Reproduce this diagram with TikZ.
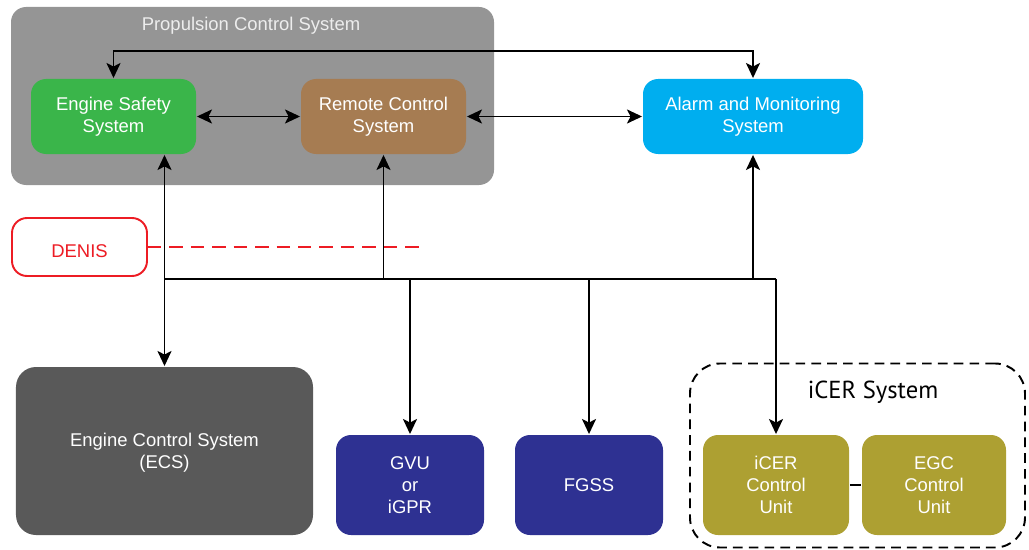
\documentclass[tikz,border=0pt]{standalone}
\usepackage{fontspec}
\setmainfont{Liberation Sans}
\newfontfamily\groupfont{PT Sans}
\usetikzlibrary{positioning, arrows.meta}

\definecolor{pcsgray}{HTML}{959595}
\definecolor{essgreen}{HTML}{3AB54A}
\definecolor{rcsbrown}{HTML}{A67C52}
\definecolor{amscyan}{HTML}{00AEEF}
\definecolor{ecsgray}{HTML}{595959}
\definecolor{unitnavy}{HTML}{2E3192}
\definecolor{icerolive}{HTML}{ADA032}
\definecolor{denisred}{HTML}{ED1C24}

\begin{document}
\begin{tikzpicture}[line width=1.1pt,
    arr/.style={-{Stealth[length=3mm,width=2.8mm,inset=0.7mm]}},
    biarr/.style={{Stealth[length=3mm,width=2.8mm,inset=0.7mm]}-{Stealth[length=3mm,width=2.8mm,inset=0.7mm]}},
    sys/.style={rectangle, rounded corners=0.3cm, align=center, text=white, inner sep=0pt,
        font=\fontsize{10.5pt}{12.5pt}\selectfont, draw=none}]
    \useasboundingbox (0,0) rectangle (20.58,-11.0);

    % propulsion control group
    \node[rectangle, rounded corners=0.3cm, fill=pcsgray, minimum width=9.66cm, minimum height=3.56cm] (pcs) at (5.05,-1.92) {};
    \node[text=white!93!black, font=\fontsize{10.5pt}{12.5pt}\selectfont] (pcstitle) at (5.02,-0.52) {Propulsion Control System};

    \node[sys, fill=essgreen, minimum width=3.3cm, minimum height=1.5cm] (ess) at (2.27,-2.33) {Engine Safety\\System};
    \node[sys, fill=rcsbrown, minimum width=3.3cm, minimum height=1.5cm] (rcs) at (7.67,-2.33) {Remote Control\\System};
    \node[sys, fill=amscyan, minimum width=4.4cm, minimum height=1.5cm] (ams) at (15.06,-2.33) {Alarm and Monitoring\\System};

    \node[sys, draw=denisred, fill=white, text=denisred, rounded corners=0.3cm, minimum width=2.7cm, minimum height=1.16cm] (denis) at (1.59,-4.94) {};
    \node[text=denisred, font=\fontsize{10.5pt}{12.5pt}\selectfont] (denistext) at (1.59,-5.02) {DENIS};
    \coordinate (denisend) at (8.44,-4.94);

    \node[sys, fill=ecsgray, rounded corners=0.4cm, minimum width=5.94cm, minimum height=3.36cm] (ecs) at (3.29,-9.02) {};
    \node[text=white, align=center, font=\fontsize{10.5pt}{12.5pt}\selectfont] (ecstext) at (3.29,-9.06) {Engine Control System\\(ECS)};
    \node[sys, fill=unitnavy, minimum width=2.96cm, minimum height=2cm] (gvu) at (8.2,-9.7) {GVU\\or\\iGPR};
    \node[sys, fill=unitnavy, minimum width=2.96cm, minimum height=2cm] (fgss) at (11.78,-9.7) {FGSS};

    % iCER system
    \node[rectangle, draw, dashed, dash pattern=on 5.5pt off 3.5pt, rounded corners=0.6cm, minimum width=6.7cm, minimum height=3.68cm] (icer) at (17.15,-9.11) {};
    \node[font=\groupfont\fontsize{14pt}{16pt}\selectfont] (icertitle) at (17.46,-7.84) {iCER System};
    \node[sys, fill=icerolive, minimum width=2.92cm, minimum height=2cm] (iceru) at (15.52,-9.7) {iCER\\Control\\Unit};
    \node[sys, fill=icerolive, minimum width=2.88cm, minimum height=2cm] (egcu) at (18.68,-9.7) {EGC\\Control\\Unit};

    \coordinate (topline) at (0,-1.02);
    \coordinate (bus) at (0,-5.58);

    \draw[biarr] (ess.north) -- (ess.north |- topline) -| (ams.north);
    \draw[biarr] (ess.east) -- (rcs.west);
    \draw[biarr] (rcs.east) -- (ams.west);

    \draw[denisred, dash pattern=on 7.6pt off 4.6pt] (denis.east) -- (denisend);

    \draw[biarr] (ess.south -| ecs.north) -- (ecs.north);
    \draw (ecs.north |- bus) -- (iceru.north |- bus);
    \draw[arr] (rcs.south |- bus) -- (rcs.south);
    \draw[arr] (ams.south |- bus) -- (ams.south);
    \draw[arr] (gvu.north |- bus) -- (gvu.north);
    \draw[arr] (fgss.north |- bus) -- (fgss.north);
    \draw[arr] (iceru.north |- bus) -- (iceru.north);
    \draw (iceru) -- (egcu);
\end{tikzpicture}
\end{document}
